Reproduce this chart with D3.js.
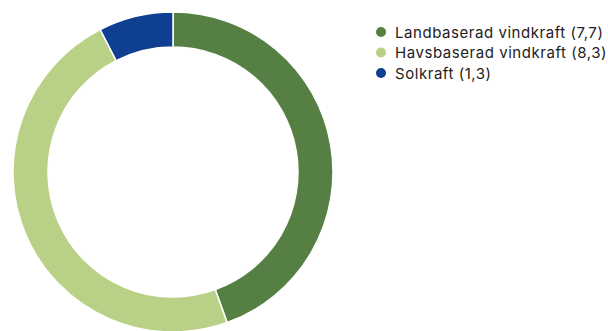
<!DOCTYPE html>
<html>
<head>
<meta charset="utf-8">
<script src="https://cdn.jsdelivr.net/npm/d3@7"></script>
<style>
  html, body { margin: 0; padding: 0; background: #ffffff; }
  svg { display: block; }
  .legend text { font-family: Inter, "Noto Sans", sans-serif; font-size: 15px; fill: #222222; letter-spacing: 0.55px; }
</style>
</head>
<body>
<svg id="chart" width="608" height="331"></svg>
<script>
// Electricity production categories and their values
const categories = ["Landbaserad vindkraft", "Havsbaserad vindkraft", "Solkraft"];
const values = [7.7, 8.3, 1.3];
const valueLabels = ["7,7", "8,3", "1,3"];
const colors = ["#567f43", "#b9d186", "#0f3f90"];

const svg = d3.select("#chart");
const cx = 173, cy = 172;
const outerR = 160, innerR = 125;

const data = categories.map((c, i) => ({ name: c, value: values[i], label: valueLabels[i], color: colors[i] }));

const pie = d3.pie().sort(null).value(d => d.value);
const arc = d3.arc().innerRadius(innerR).outerRadius(outerR);

const g = svg.append("g").attr("transform", `translate(${cx},${cy})`);
g.selectAll("path")
  .data(pie(data))
  .join("path")
  .attr("d", arc)
  .attr("fill", d => d.data.color)
  .attr("stroke", "#ffffff")
  .attr("stroke-width", 1.5);

// Legend
const legend = svg.append("g").attr("class", "legend").attr("transform", "translate(381,32)");
const rowH = 20.5;
const item = legend.selectAll("g")
  .data(data)
  .join("g")
  .attr("transform", (d, i) => `translate(0,${i * rowH})`);
item.append("circle").attr("r", 5).attr("fill", d => d.color);
item.append("text")
  .attr("x", 14)
  .attr("y", 5.8)
  .text(d => `${d.name} (${d.label})`);
</script>
</body>
</html>
